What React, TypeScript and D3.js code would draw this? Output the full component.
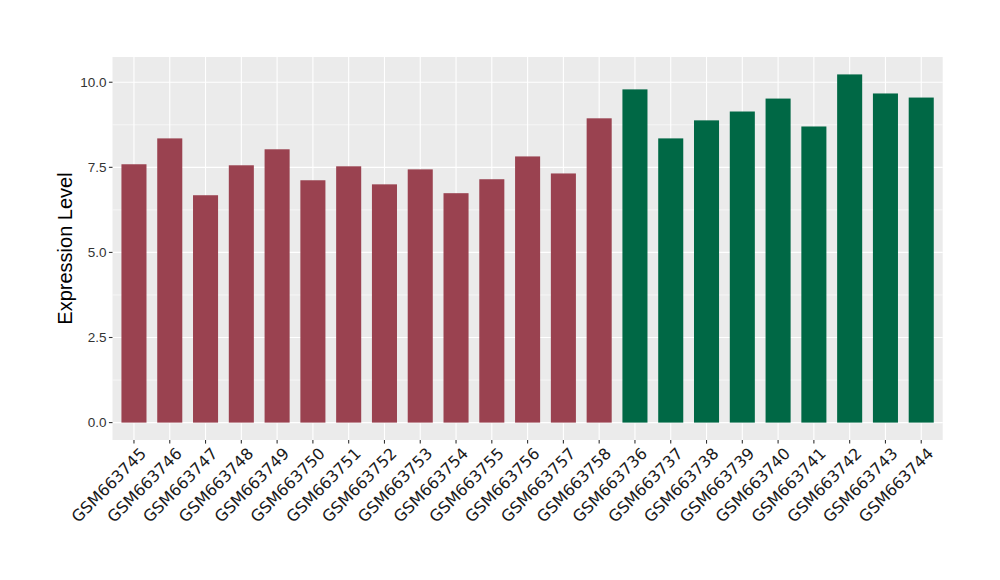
import React from "react";
import * as d3 from "d3";

const samples = [
  "GSM663745", "GSM663746", "GSM663747", "GSM663748", "GSM663749", "GSM663750",
  "GSM663751", "GSM663752", "GSM663753", "GSM663754", "GSM663755", "GSM663756",
  "GSM663757", "GSM663758", "GSM663736", "GSM663737", "GSM663738", "GSM663739",
  "GSM663740", "GSM663741", "GSM663742", "GSM663743", "GSM663744",
];
const values = [
  7.59, 8.35, 6.68, 7.56, 8.03, 7.12, 7.53, 7.0, 7.44, 6.74, 7.15, 7.82, 7.32, 8.94,
  9.79, 8.35, 8.88, 9.14, 9.52, 8.7, 10.23, 9.67, 9.55,
];
const groups = [
  "A", "A", "A", "A", "A", "A", "A", "A", "A", "A", "A", "A", "A", "A",
  "B", "B", "B", "B", "B", "B", "B", "B", "B",
];
const yTicks = [0, 2.5, 5, 7.5, 10];
const yMinor = [1.25, 3.75, 6.25, 8.75];
const groupColors: Record<string, string> = { A: "#9A4250", B: "#006845" };

const W = 1000;
const H = 580;
const left = 112.5;
const right = 942.7;
const top = 57;
const bottom = 440;
const font = "'Liberation Sans', Arial, Helvetica, sans-serif";
const xFont = "'DejaVu Sans', 'Liberation Sans', sans-serif";

export default function App() {
  const n = samples.length;
  const unit = (right - left) / (n - 1 + 1.2);
  const x = d3
    .scalePoint<string>()
    .domain(samples)
    .range([left + 0.6 * unit, right - 0.6 * unit]);
  const ymax = d3.max(values) as number;
  const pad = ymax * 0.05;
  const y = d3.scaleLinear().domain([-pad, ymax + pad]).range([bottom, top]);
  const bw = unit * 0.7;

  return (
    <svg width={W} height={H} style={{ display: "block", position: "absolute", left: 0, top: 0 }}>
      <rect x={0} y={0} width={W} height={H} fill="#fff" />
      <rect x={left} y={top} width={right - left} height={bottom - top} fill="#EBEBEB" />
      {yMinor.map((t) => (
        <line key={"m" + t} x1={left} x2={right} y1={y(t)} y2={y(t)} stroke="#fff" strokeWidth={0.55} />
      ))}
      {yTicks.map((t) => (
        <line key={"g" + t} x1={left} x2={right} y1={y(t)} y2={y(t)} stroke="#fff" strokeWidth={1.1} />
      ))}
      {samples.map((s) => (
        <line key={"v" + s} x1={x(s)} x2={x(s)} y1={top} y2={bottom} stroke="#fff" strokeWidth={1.1} />
      ))}
      {samples.map((s, i) => (
        <rect
          key={"b" + s}
          x={(x(s) as number) - bw / 2}
          width={bw}
          y={y(values[i])}
          height={y(0) - y(values[i])}
          fill={groupColors[groups[i]]}
        />
      ))}
      {yTicks.map((t) => (
        <g key={"yt" + t}>
          <line x1={left - 3.6} x2={left} y1={y(t)} y2={y(t)} stroke="#333" strokeWidth={1.1} />
          <text
            x={left - 6}
            y={y(t)}
            dy="0.35em"
            textAnchor="end"
            fontFamily={font}
            fontSize={13.5}
            fill="#333"
          >
            {d3.format(".1f")(t)}
          </text>
        </g>
      ))}
      {samples.map((s) => (
        <g key={"xt" + s}>
          <line x1={x(s)} x2={x(s)} y1={bottom} y2={bottom + 3.6} stroke="#333" strokeWidth={1.1} />
          <text
            transform={`translate(${(x(s) as number) + 5},${bottom + 6.5}) rotate(-45)`}
            dy="0.72em"
            textAnchor="end"
            fontFamily={xFont}
            fontSize={16}
            fill="#1A1A1A"
          >
            {s}
          </text>
        </g>
      ))}
      <text
        transform={`translate(72,${(top + bottom) / 2}) rotate(-90)`}
        textAnchor="middle"
        fontFamily={font}
        fontSize={20}
        fill="#000"
      >
        Expression Level
      </text>
    </svg>
  );
}
